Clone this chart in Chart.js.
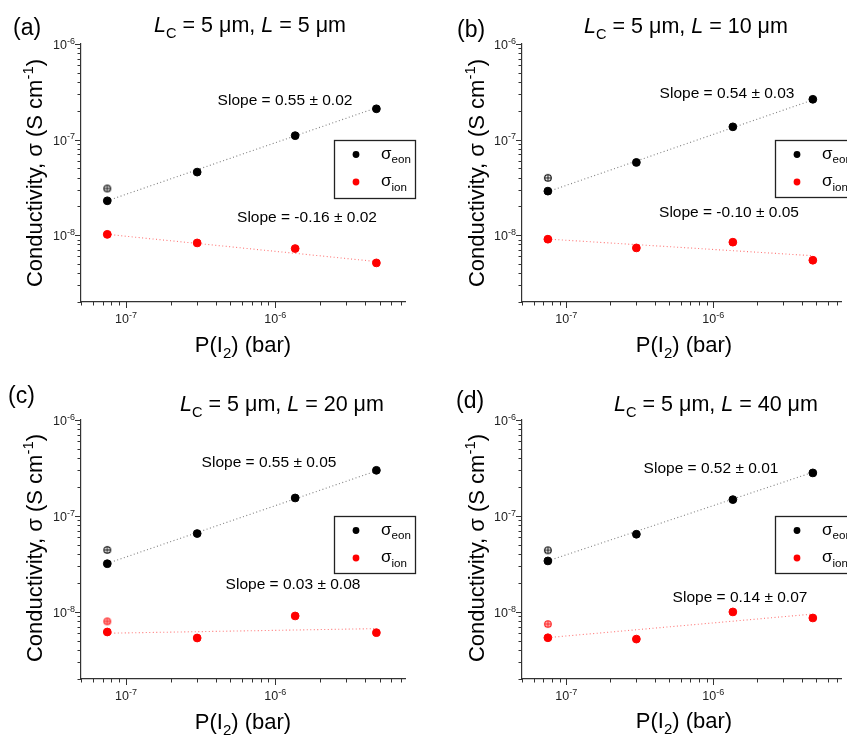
<!DOCTYPE html>
<html>
<head>
<meta charset="utf-8">
<script src="https://cdn.jsdelivr.net/npm/chart.js@4.4.1/dist/chart.umd.min.js"></script>
<style>
  html, body { margin: 0; padding: 0; background: #ffffff; }
  #wrap { position: relative; width: 847px; height: 736px; overflow: hidden; background: #fff; }
  canvas { position: absolute; }
</style>
</head>
<body>
<div id="wrap">
  <canvas id="pa" width="424" height="368" style="left:0;top:0"></canvas>
  <canvas id="pb" width="423" height="368" style="left:424px;top:0"></canvas>
  <canvas id="pc" width="424" height="368" style="left:0;top:368px"></canvas>
  <canvas id="pd" width="423" height="368" style="left:424px;top:368px"></canvas>
</div>
<script>
// ---------------- DATA ----------------
const pressures = [7.5e-8, 3.0e-7, 1.36e-6, 4.76e-6];          // P(I2) (bar)
const panelLabels = ['(a)', '(b)', '(c)', '(d)'];
const channelLengths = ['5', '10', '20', '40'];                 // L (µm)
const contactLength = '5';                                     // Lc (µm)

const eonA = [2.29e-8, 4.57e-8, 1.10e-7, 2.10e-7];
const ionA = [1.02e-8, 8.3e-9, 7.25e-9, 5.13e-9];
const eonB = [2.89e-8, 5.77e-8, 1.36e-7, 2.64e-7];
const ionB = [9.08e-9, 7.36e-9, 8.45e-9, 5.47e-9];
const eonC = [3.18e-8, 6.56e-8, 1.54e-7, 2.99e-7];
const ionC = [6.18e-9, 5.35e-9, 9.08e-9, 6.08e-9];
const eonD = [3.40e-8, 6.45e-8, 1.48e-7, 2.81e-7];
const ionD = [5.38e-9, 5.21e-9, 1.00e-8, 8.65e-9];

// open (crossed) markers at the lowest pressure
const eonOpen = [3.08e-8, 3.98e-8, 4.43e-8, 4.39e-8];
const ionOpen = [1.02e-8, 9.10e-9, 7.98e-9, 7.48e-9];

// fitted line end values (at first and last pressure)
const eonFitA = [2.29e-8, 2.15e-7];
const eonFitB = [2.85e-8, 2.60e-7];
const eonFitC = [3.20e-8, 2.95e-7];
const eonFitD = [3.40e-8, 2.85e-7];
const ionFitA = [1.02e-8, 5.30e-9];
const ionFitB = [9.10e-9, 6.10e-9];
const ionFitC = [6.00e-9, 6.70e-9];
const ionFitD = [5.40e-9, 9.50e-9];

const eonSlopes = ['0.55 \u00b1 0.02', '0.54 \u00b1 0.03', '0.55 \u00b1 0.05', '0.52 \u00b1 0.01'];
const ionSlopes = ['-0.16 \u00b1 0.02', '-0.10 \u00b1 0.05', '0.03 \u00b1 0.08', '0.14 \u00b1 0.07'];

const xRange = [5e-8, 7.4e-6];
const yRange = [2e-9, 1e-6];
const xMajorTicks = [1e-7, 1e-6];
const yMajorTicks = [1e-8, 1e-7, 1e-6];
const xTickExponents = ['-7', '-6'];
const yTickExponents = ['-8', '-7', '-6'];
const legendLabels = ['eon', 'ion'];

const eonSets = [eonA, eonB, eonC, eonD];
const ionSets = [ionA, ionB, ionC, ionD];
const eonFits = [eonFitA, eonFitB, eonFitC, eonFitD];
const ionFits = [ionFitA, ionFitB, ionFitC, ionFitD];

// ---------------- LAYOUT (canvas-relative) ----------------
const FONT = '"Liberation Sans", Arial, Helvetica, sans-serif';
const layouts = [
  { plot:[81,44,405,302], label:[13,35], title:[250,32], s1:[285,105], s2:[307,222], legend:[334,140,81,58], ytitle:[42,173], xtitle:[243,352] },
  { plot:[98,44,422,302], label:[33,37], title:[262,33], s1:[303,98],  s2:[305,217], legend:[351,140,81,57], ytitle:[60,173], xtitle:[260,352] },
  { plot:[81,52,405,311], label:[8,35],  title:[282,43], s1:[269,99],  s2:[293,221], legend:[334,148,81,57], ytitle:[42,180], xtitle:[243,361] },
  { plot:[98,52,422,311], label:[32,40], title:[292,43], s1:[287,105], s2:[316,234], legend:[351,148,81,57], ytitle:[60,180], xtitle:[260,360] }
];

// ---------------- helpers ----------------
function fontOf(r, base) {
  const size = (r.sub || r.sup) ? base * (r.k || 0.68) : base;
  return (r.it ? 'italic ' : '') + size.toFixed(1) + 'px ' + FONT;
}
function runsWidth(ctx, runs, base) {
  let w = 0;
  for (const r of runs) { ctx.font = fontOf(r, base); w += ctx.measureText(r.t).width; }
  return w;
}
function drawRuns(ctx, runs, x, y, base, align, color) {
  const w = runsWidth(ctx, runs, base);
  let cx = align === 'center' ? x - w / 2 : (align === 'right' ? x - w : x);
  ctx.textBaseline = 'alphabetic';
  ctx.textAlign = 'left';
  ctx.fillStyle = color || '#000';
  for (const r of runs) {
    ctx.font = fontOf(r, base);
    const dy = r.sub ? base * 0.28 : (r.sup ? -base * 0.42 : 0);
    ctx.fillText(r.t, cx, y + dy);
    cx += ctx.measureText(r.t).width;
  }
}
function logTicks(min, max) {
  const out = [];
  for (let e = Math.floor(Math.log10(min)); e <= Math.ceil(Math.log10(max)); e++) {
    for (let m = 1; m < 10; m++) {
      const v = m * Math.pow(10, e);
      if (v >= min * 0.999 && v <= max * 1.001) out.push(v);
    }
  }
  return out;
}
function openMarker(stroke, fill) {
  const c = document.createElement('canvas');
  c.width = 10; c.height = 10;
  const g = c.getContext('2d');
  g.beginPath(); g.arc(5, 5, 3.3, 0, Math.PI * 2);
  g.fillStyle = fill; g.fill();
  g.lineWidth = 1.1; g.strokeStyle = stroke; g.stroke();
  g.beginPath();
  g.moveTo(1.8, 5); g.lineTo(8.2, 5);
  g.moveTo(5, 1.8); g.lineTo(5, 8.2);
  g.lineWidth = 0.9; g.stroke();
  return c;
}

function textPlugin(i) {
  const L = layouts[i];
  return {
    id: 'decor' + i,
    afterDraw(chart) {
      const ctx = chart.ctx;
      const xs = chart.scales.x, ys = chart.scales.y;
      const area = chart.chartArea;
      ctx.save();
      // ticks
      ctx.strokeStyle = '#333'; ctx.lineWidth = 1;
      const xMinor = logTicks(xRange[0], xRange[1]);
      const yMinor = logTicks(yRange[0], yRange[1]);
      ctx.beginPath();
      for (const v of xMinor) {
        const px = Math.round(xs.getPixelForValue(v)) + 0.5;
        const major = xMajorTicks.some(m => Math.abs(m - v) / m < 1e-6);
        ctx.moveTo(px, area.bottom); ctx.lineTo(px, area.bottom + (major ? 6 : 3.5));
      }
      for (const v of yMinor) {
        const py = Math.round(ys.getPixelForValue(v)) + 0.5;
        const major = yMajorTicks.some(m => Math.abs(m - v) / m < 1e-6);
        ctx.moveTo(area.left, py); ctx.lineTo(area.left - (major ? 6 : 3.5), py);
      }
      ctx.stroke();
      // tick labels
      xMajorTicks.forEach((v, k) => {
        const px = xs.getPixelForValue(v);
        drawRuns(ctx, [{t:'10'}, {t:xTickExponents[k], sup:true, k:0.72}], px, area.bottom + 21, 12.5, 'center', '#222');
      });
      yMajorTicks.forEach((v, k) => {
        const py = ys.getPixelForValue(v);
        drawRuns(ctx, [{t:'10'}, {t:yTickExponents[k], sup:true, k:0.72}], area.left - 6, py + 5, 12.5, 'right', '#222');
      });
      // panel label
      ctx.font = '23px ' + FONT; ctx.fillStyle = '#000'; ctx.textAlign = 'left'; ctx.textBaseline = 'alphabetic';
      ctx.fillText(panelLabels[i], L.label[0], L.label[1]);
      // title
      drawRuns(ctx, [
        {t:'L', it:true}, {t:'C', sub:true}, {t:' = ' + contactLength + ' \u03bcm, '},
        {t:'L', it:true}, {t:' = ' + channelLengths[i] + ' \u03bcm'}
      ], L.title[0], L.title[1], 21.5, 'center');
      // slope annotations
      drawRuns(ctx, [{t:'Slope = ' + eonSlopes[i]}], L.s1[0], L.s1[1], 15.5, 'center');
      drawRuns(ctx, [{t:'Slope = ' + ionSlopes[i]}], L.s2[0], L.s2[1], 15.5, 'center');
      // legend
      const [lx, ly, lw, lh] = L.legend;
      ctx.lineWidth = 1.3; ctx.strokeStyle = '#222';
      ctx.strokeRect(lx + 0.5, ly + 0.5, lw, lh);
      const rows = [{c:'#000', s:legendLabels[0]}, {c:'#ff0000', s:legendLabels[1]}];
      rows.forEach((r, k) => {
        const my = ly + 14.5 + k * 27.5;
        ctx.beginPath(); ctx.arc(lx + 22, my, 3.4, 0, Math.PI * 2); ctx.fillStyle = r.c; ctx.fill();
        drawRuns(ctx, [{t:'\u03c3'}, {t:r.s, sub:true}], lx + 47, my + 4, 17, 'left');
      });
      // x axis title
      drawRuns(ctx, [{t:'P(I'}, {t:'2', sub:true}, {t:') (bar)'}], L.xtitle[0], L.xtitle[1], 22, 'center');
      // y axis title
      ctx.translate(L.ytitle[0], L.ytitle[1]);
      ctx.rotate(-Math.PI / 2);
      drawRuns(ctx, [{t:'Conductivity, \u03c3 (S cm'}, {t:'-1', sup:true}, {t:')'}], 0, 0, 22, 'center');
      ctx.restore();
    }
  };
}

const canvasIds = ['pa', 'pb', 'pc', 'pd'];
const blackOpen = openMarker('#000', '#fff');
const redOpenOver = openMarker('#ff8080', 'rgba(255,0,0,0)');
const redOpen = openMarker('#ff2020', '#ffb0b0');

canvasIds.forEach((id, i) => {
  const cv = document.getElementById(id);
  const W = cv.width, H = cv.height;
  const [pl, pt, pr, pb] = layouts[i].plot;
  const eon = eonSets[i], ion = ionSets[i];
  const ionOverlaps = Math.abs(ionOpen[i] - ion[0]) / ion[0] < 0.05;
  new Chart(cv, {
    type: 'scatter',
    data: {
      datasets: [
        { type:'line', data:[{x:pressures[0], y:eonFits[i][0]}, {x:pressures[3], y:eonFits[i][1]}],
          borderColor:'rgba(0,0,0,0.5)', borderWidth:1.1, borderDash:[1,2.5], pointRadius:0, fill:false, tension:0 },
        { type:'line', data:[{x:pressures[0], y:ionFits[i][0]}, {x:pressures[3], y:ionFits[i][1]}],
          borderColor:'rgba(255,0,0,0.55)', borderWidth:1.1, borderDash:[1,2.5], pointRadius:0, fill:false, tension:0 },
        { data: pressures.map((p, k) => ({x:p, y:eon[k]})), backgroundColor:'#000', borderColor:'#000', pointRadius:3.9, borderWidth:1 },
        { data: pressures.map((p, k) => ({x:p, y:ion[k]})), backgroundColor:'#ff0000', borderColor:'#ff0000', pointRadius:3.9, borderWidth:1 },
        { data: [{x:pressures[0], y:eonOpen[i]}], pointStyle: blackOpen, pointRadius:5 },
        { data: [{x:pressures[0], y:ionOpen[i]}], pointStyle: ionOverlaps ? redOpenOver : redOpen, pointRadius:5 }
      ]
    },
    options: {
      responsive: false, animation: false, events: [],
      devicePixelRatio: 1,
      layout: { padding: { left: 0, top: pt, right: W - pr, bottom: 0 } },
      plugins: { legend: { display: false }, tooltip: { enabled: false }, title: { display: false } },
      scales: {
        x: { type:'logarithmic', min:xRange[0], max:xRange[1], position:'bottom',
             grid:{ display:false }, ticks:{ display:false },
             border:{ display:true, color:'#333', width:1.2 },
             afterFit(s) { s.height = H - pb; } },
        y: { type:'logarithmic', min:yRange[0], max:yRange[1], position:'left',
             grid:{ display:false }, ticks:{ display:false },
             border:{ display:true, color:'#333', width:1.2 },
             afterFit(s) { s.width = pl; } }
      }
    },
    plugins: [textPlugin(i)]
  });
});
</script>
</body>
</html>
